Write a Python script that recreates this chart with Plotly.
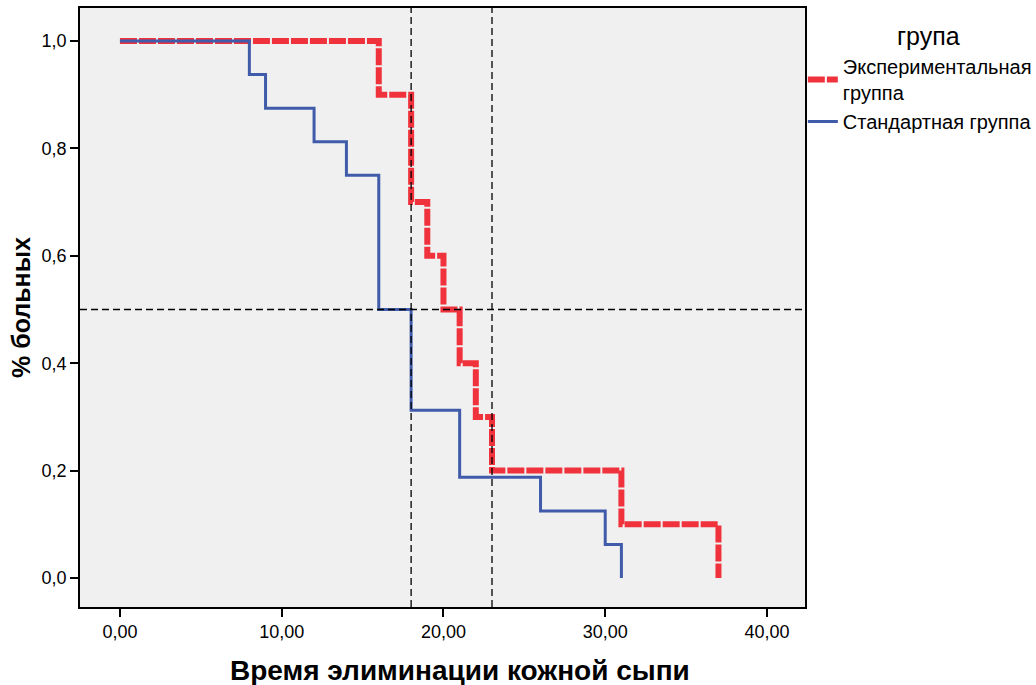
import plotly.graph_objects as go

# Kaplan-Meier style step data
exp_time = [0, 16, 18, 19, 20, 21, 22, 23, 31, 37]
exp_surv = [1.0, 0.9, 0.7, 0.6, 0.5, 0.4, 0.3, 0.2, 0.1, 0.0]
std_time = [0, 8, 9, 12, 14, 16, 18, 21, 26, 30, 31]
std_surv = [1.0, 0.9375, 0.875, 0.8125, 0.75, 0.5, 0.3125, 0.1875, 0.125, 0.0625, 0.0]

exp_name = "Экспериментальная<br>группа"
std_name = "Стандартная группа"
legend_title = "група"
x_title = "Время элиминации кожной сыпи"
y_title = "% больных"

x_ticks = [0, 10, 20, 30, 40]
x_ticktext = ["0,00", "10,00", "20,00", "30,00", "40,00"]
y_ticks = [0.0, 0.2, 0.4, 0.6, 0.8, 1.0]
y_ticktext = ["0,0", "0,2", "0,4", "0,6", "0,8", "1,0"]

ref_x = [18, 23]
ref_y = 0.5

fig = go.Figure()
fig.add_trace(go.Scatter(
    x=exp_time, y=exp_surv, mode="lines", line_shape="hv", name=exp_name,
    line=dict(color="#F0323C", width=6, dash="17px,2px"),
))
fig.add_trace(go.Scatter(
    x=std_time, y=std_surv, mode="lines", line_shape="hv", name=std_name,
    line=dict(color="#3F5BAA", width=3),
))

for xv in ref_x:
    fig.add_shape(type="line", x0=xv, x1=xv, y0=0, y1=1, yref="paper", xref="x",
                  line=dict(color="black", width=1.3, dash="7px,4px"), layer="above")
fig.add_shape(type="line", x0=0, x1=1, xref="paper", y0=ref_y, y1=ref_y, yref="y",
              line=dict(color="black", width=1.3, dash="7px,4px"), layer="above")

# legend title and x-axis title as annotations for precise placement
fig.add_annotation(text=legend_title, xref="paper", yref="paper", x=1.1697, y=1.0, yshift=-28,
                   showarrow=False, xanchor="center", yanchor="middle", font=dict(size=25))
fig.add_annotation(text="<b>" + x_title + "</b>", xref="paper", yref="paper", x=0.5, y=0,
                   xshift=17, yshift=-63, showarrow=False, xanchor="center", yanchor="middle",
                   font=dict(size=28))

fig.update_layout(
    width=1036, height=685,
    margin=dict(l=80, r=231, t=8, b=78, autoexpand=False),
    paper_bgcolor="white", plot_bgcolor="#F0F0F0",
    font=dict(family="Liberation Sans, Arial, sans-serif", size=18, color="black"),
    showlegend=True,
    legend=dict(
        x=0.997, y=0.935, xanchor="left", yanchor="top",
        font=dict(size=20), tracegroupgap=0, itemwidth=30,
        bgcolor="rgba(0,0,0,0)",
    ),
    xaxis=dict(
        range=[-2.47, 42.35], tickvals=x_ticks, ticktext=x_ticktext,
        showgrid=False, zeroline=False, showline=True, linecolor="black", linewidth=1.5,
        mirror=True, ticks="outside", ticklen=8, tickcolor="black", tickwidth=1.5,
        tickfont=dict(size=18),
    ),
    yaxis=dict(
        range=[-0.054, 1.0615], tickvals=y_ticks, ticktext=y_ticktext,
        showgrid=False, zeroline=False, showline=True, linecolor="black", linewidth=1.5,
        mirror=True, ticks="outside", ticklen=8, tickcolor="black", tickwidth=1.5,
        title=dict(text="<b>" + y_title + "</b>", font=dict(size=25), standoff=4),
        tickfont=dict(size=18),
    ),
)

fig.write_html("out.html", config={"displayModeBar": False},
               post_script="document.body.style.margin='0';document.body.style.overflow='hidden';")
